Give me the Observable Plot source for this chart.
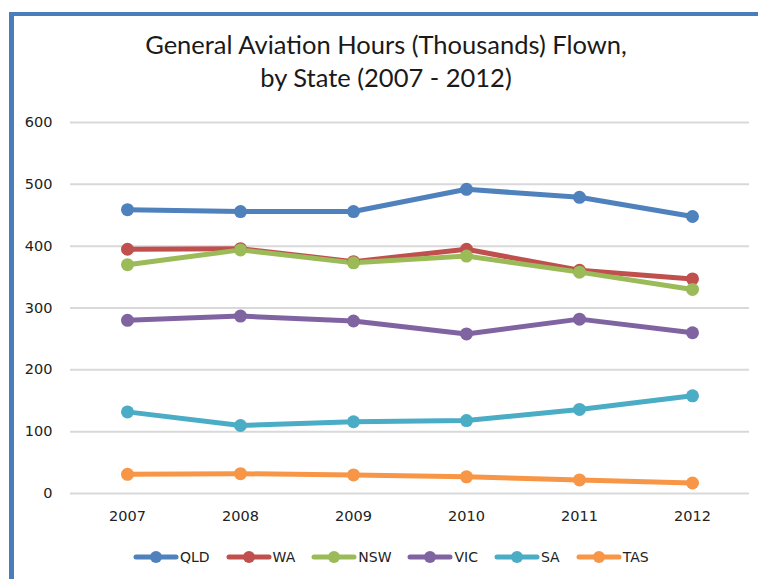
<!DOCTYPE html>
<html>
<head>
<meta charset="utf-8">
<script src="https://cdn.jsdelivr.net/npm/d3@7"></script>
<script src="https://cdn.jsdelivr.net/npm/@observablehq/plot@0.6"></script>
<style>
  html, body { margin: 0; padding: 0; background: #fff; width: 758px; height: 579px; overflow: hidden; }
  #topBorder { position: absolute; left: 9px; top: 12px; width: 749px; height: 4px; background: #4a7ebb; }
  #leftBorder { position: absolute; left: 9px; top: 12px; width: 5px; height: 567px; background: #4a7ebb; }
  #title { position: absolute; left: 14px; width: 744px; top: 28px; text-align: center;
           font-family: Lato, "Open Sans", sans-serif; font-size: 25.5px; line-height: 33px; color: #1a1a1a; }
  #chart { position: absolute; left: 0; top: 100px; }
  #chart svg text { font-family: "DejaVu Sans", sans-serif !important; font-size: 14.5px !important; }
  #legend { position: absolute; left: 133px; top: 549px; display: flex; justify-content: flex-start;
            font-family: "DejaVu Sans", sans-serif; font-size: 14px; color: #222; }
  .item { display: flex; align-items: center; margin-right: 16px; }
  .item svg { margin-right: 1px; }
</style>
</head>
<body>
<div id="topBorder"></div>
<div id="leftBorder"></div>
<div id="title">General Aviation Hours (Thousands) Flown,<br>by State (2007 - 2012)</div>
<div id="chart"></div>
<div id="legend"></div>
<script>
const years = ["2007", "2008", "2009", "2010", "2011", "2012"];
const states = ["QLD", "WA", "NSW", "VIC", "SA", "TAS"];
const colors = ["#4f81bd", "#c0504d", "#9bbb59", "#8064a2", "#4bacc6", "#f79646"];
const QLD = [459, 456, 456, 492, 479, 448];
const WA  = [395, 396, 375, 395, 361, 347];
const NSW = [370, 394, 373, 384, 358, 330];
const VIC = [280, 287, 279, 258, 282, 260];
const SA  = [132, 110, 116, 118, 136, 158];
const TAS = [31, 32, 30, 27, 22, 17];
const yTicks = [0, 100, 200, 300, 400, 500, 600];

const seriesValues = [QLD, WA, NSW, VIC, SA, TAS];
const data = [];
states.forEach((s, i) => years.forEach((y, j) => data.push({state: s, year: y, value: seriesValues[i][j]})));

const chart = Plot.plot({
  width: 758,
  height: 440,
  marginLeft: 70,
  marginRight: 9,
  marginTop: 22,
  marginBottom: 47,
  style: { fontFamily: "DejaVu Sans, sans-serif", fontSize: "14px", color: "#222", background: "transparent" },
  x: { type: "point", domain: years, padding: 0.5 },
  y: { domain: [0, 600] },
  color: { domain: states, range: colors },
  marks: [
    Plot.ruleY(yTicks, { stroke: "#d9d9d9", strokeWidth: 2 }),
    Plot.axisX({ label: null, tickSize: 0, tickPadding: 17, fontSize: 14, fill: "#222" }),
    Plot.axisY({ ticks: yTicks, label: null, tickSize: 0, tickPadding: 18, fontSize: 14, fill: "#222" }),
    Plot.line(data, { x: "year", y: "value", z: "state", stroke: "state", strokeWidth: 5, strokeLinejoin: "round", strokeLinecap: "round" }),
    Plot.dot(data, { x: "year", y: "value", fill: "state", r: 6.5, stroke: "none" })
  ]
});
document.getElementById("chart").appendChild(chart);

const legend = document.getElementById("legend");
states.forEach((s, i) => {
  const item = document.createElement("div");
  item.className = "item";
  item.innerHTML = `<svg width="46" height="16"><line x1="3" y1="8" x2="43" y2="8" stroke="${colors[i]}" stroke-width="5" stroke-linecap="round"/><circle cx="23" cy="8" r="6" fill="${colors[i]}"/></svg><span>${s}</span>`;
  legend.appendChild(item);
});
</script>
</body>
</html>
